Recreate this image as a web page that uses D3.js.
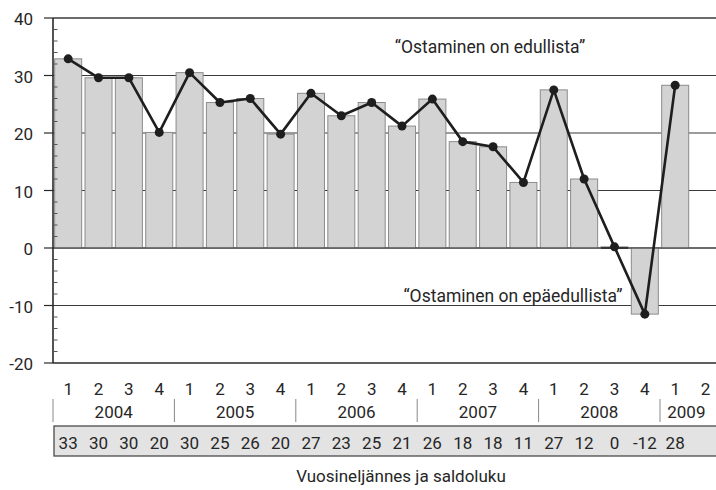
<!DOCTYPE html>
<html>
<head>
<meta charset="utf-8">
<script src="https://cdn.jsdelivr.net/npm/d3@7"></script>
<style>
html,body{margin:0;padding:0;background:#fff;}
svg{display:block;}
text{font-family:Roboto,"Open Sans",sans-serif;fill:#262626;}
</style>
</head>
<body>
<svg id="chart" width="716" height="490"></svg>
<script>
const quarters = ["1","2","3","4","1","2","3","4","1","2","3","4","1","2","3","4","1","2","3","4","1","2"];
const years = ["2004","2005","2006","2007","2008","2009"];
const yearQuarterCounts = [4,4,4,4,4,2];
const values = [32.9,29.6,29.6,20.1,30.5,25.3,26.0,19.8,26.9,23.0,25.3,21.2,25.9,18.5,17.6,11.4,27.5,12.0,0.2,-11.5,28.3];
const tableLabels = ["33","30","30","20","30","25","26","20","27","23","25","21","26","18","18","11","27","12","0","-12","28",""];
const yTicks = [-20,-10,0,10,20,30,40];
const gridValues = [40,30,20,10,0,-10];
const labelTop = "\u201COstaminen on edullista\u201D";
const labelBottom = "\u201COstaminen on ep\u00E4edullista\u201D";
const axisTitle = "Vuosinelj\u00E4nnes ja saldoluku";

(function(){
const svg = d3.select("#chart");
const W = 716;
const pL = 53, pR = 720.7, pT = 18, pB = 363;

const idx = d3.range(quarters.length);
const x = d3.scaleBand().domain(idx).range([pL, pR]).paddingInner(0.11).paddingOuter(0.055);
const slot = x.step();
const y = d3.scaleLinear().domain([-20, 40]).range([pB, pT]);

svg.append("g").selectAll("line").data(gridValues).join("line")
  .attr("x1", pL).attr("x2", W)
  .attr("y1", d => y(d)).attr("y2", d => y(d))
  .attr("stroke", "#3a3a3a").attr("stroke-width", d => d === 40 ? 1.4 : 1.1);

svg.append("g").selectAll("rect").data(values).join("rect")
  .attr("x", (d, i) => x(i))
  .attr("width", x.bandwidth())
  .attr("y", d => y(Math.max(0, d)))
  .attr("height", d => Math.max(Math.abs(y(d) - y(0)), 0.01))
  .attr("fill", "#d3d3d3")
  .attr("stroke", "#8c8c8c").attr("stroke-width", 1);

svg.append("g").selectAll("line").data(values.map((v,i)=>({v,i})).filter(d => Math.abs(d.v) < 0.5)).join("line")
  .attr("x1", d => x(d.i)).attr("x2", d => x(d.i) + x.bandwidth())
  .attr("y1", d => y(0)).attr("y2", d => y(0))
  .attr("stroke", "#333").attr("stroke-width", 2);

svg.append("line").attr("x1", pL).attr("x2", W).attr("y1", y(0)).attr("y2", y(0))
  .attr("stroke", "#3a3a3a").attr("stroke-width", 1.2);

const cx = i => x(i) + x.bandwidth() / 2;
svg.append("path").datum(values)
  .attr("d", d3.line().x((d, i) => cx(i)).y(d => y(d)))
  .attr("fill", "none").attr("stroke", "#1e1e1e").attr("stroke-width", 2.6).attr("stroke-linejoin", "round");
svg.append("g").selectAll("circle").data(values).join("circle")
  .attr("cx", (d, i) => cx(i)).attr("cy", d => y(d)).attr("r", 4.5).attr("fill", "#1e1e1e");

const ya = svg.append("g");
ya.append("line").attr("x1", pL).attr("x2", pL).attr("y1", pT).attr("y2", pB)
  .attr("stroke", "#2a2a2a").attr("stroke-width", 1.6);
ya.selectAll("line.major").data(yTicks).join("line").attr("class", "major")
  .attr("x1", 44).attr("x2", pL).attr("y1", d => y(d)).attr("y2", d => y(d))
  .attr("stroke", "#2a2a2a").attr("stroke-width", 1.2);
const minor = d3.range(-20, 40.1, 2).filter(v => v % 10 !== 0);
ya.selectAll("line.minor").data(minor).join("line").attr("class", "minor")
  .attr("x1", pL).attr("x2", pL + 4.5).attr("y1", d => y(d)).attr("y2", d => y(d))
  .attr("stroke", "#555").attr("stroke-width", 1);
ya.selectAll("text").data(yTicks).join("text")
  .attr("x", 33).attr("y", d => y(d) + 7)
  .attr("text-anchor", "end").attr("font-size", 17)
  .text(d => d);

svg.append("line").attr("x1", pL).attr("x2", W).attr("y1", pB).attr("y2", pB)
  .attr("stroke", "#2a2a2a").attr("stroke-width", 1.6);

svg.append("g").selectAll("text").data(quarters).join("text")
  .attr("x", (d, i) => cx(i)).attr("y", 395)
  .attr("text-anchor", "middle").attr("font-size", 17).text(d => d);

let start = 0;
const yearData = years.map((yr, k) => { const o = {yr, start, n: yearQuarterCounts[k]}; start += yearQuarterCounts[k]; return o; });
svg.append("g").selectAll("line").data(yearData).join("line")
  .attr("x1", d => x(d.start) - (slot - x.bandwidth()) / 2).attr("x2", d => x(d.start) - (slot - x.bandwidth()) / 2)
  .attr("y1", 399).attr("y2", 422)
  .attr("stroke", "#888").attr("stroke-width", 1);
svg.append("g").selectAll("text").data(yearData).join("text")
  .attr("x", d => (cx(d.start) + cx(d.start + d.n - 1)) / 2 - (d.n === 2 ? 4 : 0)).attr("y", 418)
  .attr("text-anchor", "middle").attr("font-size", 17).text(d => d.yr);

svg.append("rect").attr("x", 54).attr("y", 426).attr("width", W - 54 + 5).attr("height", 30)
  .attr("fill", "#e3e3e3").attr("stroke", "#4a4a4a").attr("stroke-width", 1.3);
svg.append("g").selectAll("text").data(tableLabels).join("text")
  .attr("x", (d, i) => cx(i)).attr("y", 449)
  .attr("text-anchor", "middle").attr("font-size", 17).text(d => d);

svg.append("text").attr("x", 490).attr("y", 53).attr("text-anchor", "middle").attr("font-size", 17.5).text(labelTop);
svg.append("text").attr("x", 513).attr("y", 302).attr("text-anchor", "middle").attr("font-size", 17.5).text(labelBottom);

svg.append("text").attr("x", 401).attr("y", 482).attr("text-anchor", "middle").attr("font-size", 17).text(axisTitle);
})();
</script>
</body>
</html>
